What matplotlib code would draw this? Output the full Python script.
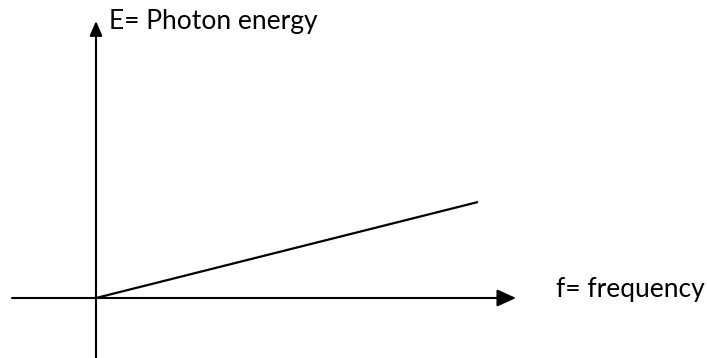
import matplotlib
matplotlib.use("Agg")
import matplotlib.pyplot as plt

# E = h f : straight line through the origin
freq = [0.0, 4.0]
energy = [0.0, 1.0]

x_label = "f= frequency"
y_label = "E= Photon energy"

W, H, DPI = 707, 358, 100
fig = plt.figure(figsize=(W / DPI, H / DPI), dpi=DPI)
ax = fig.add_axes([0, 0, 1, 1])
ax.set_axis_off()

# pixel layout of the drawing: origin at (96, 298), 95.5 px per f unit, 96 px per E unit
ox, oy = 96, 298
sx, sy = 95.5, 96.0
ax.set_xlim(-ox / sx, (W - ox) / sx)
ax.set_ylim(-(H - oy) / sy, oy / sy)

# axes with arrow heads
ax.annotate("", xy=((516 - ox) / sx, 0), xytext=((12 - ox) / sx, 0),
            arrowprops=dict(arrowstyle="-|>,head_length=11.5,head_width=5.2",
                            mutation_scale=1, color="black", lw=1.5,
                            shrinkA=0, shrinkB=0))
ax.annotate("", xy=(0, (oy - 21) / sy), xytext=(0, -(H - oy) / sy),
            arrowprops=dict(arrowstyle="-|>,head_length=8.8,head_width=3.8",
                            mutation_scale=1, color="black", lw=1.5,
                            shrinkA=0, shrinkB=0))

ax.plot(freq, energy, color="black", lw=1.6, solid_capstyle="butt")

fig.text(109 / W, 1 - 28.5 / H, y_label, fontsize=19, family="Lato",
         ha="left", va="baseline")
fig.text(556 / W, 1 - 297 / H, x_label, fontsize=19, family="Lato",
         ha="left", va="baseline")

fig.savefig("out.png", dpi=DPI, facecolor="white")
